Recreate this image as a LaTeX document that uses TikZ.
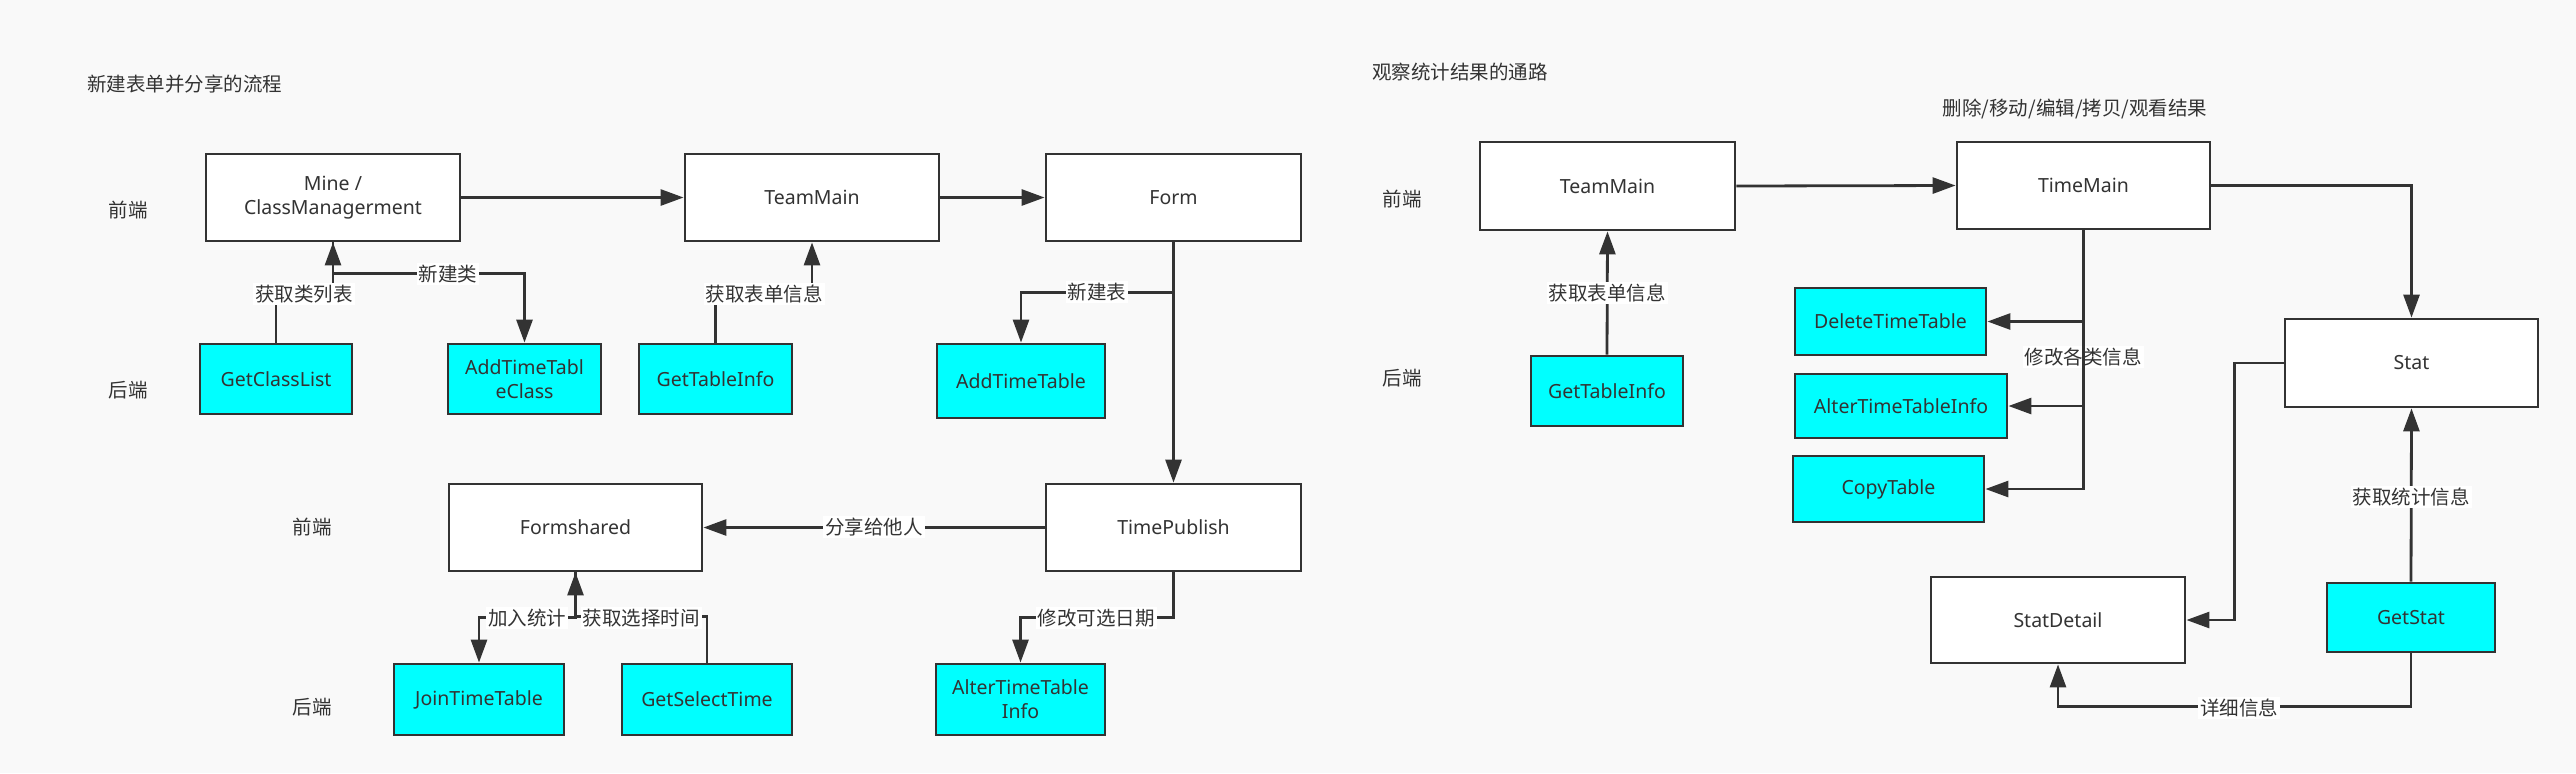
\documentclass[tikz,border=0pt]{standalone}
\usepackage{fontspec}
\setmainfont{Noto Sans}
\newfontfamily\cjk{Noto Sans CJK SC}
\usetikzlibrary{arrows.meta}
\definecolor{ink}{HTML}{333333}
\definecolor{pagebg}{HTML}{F9F9F9}
\definecolor{cy}{HTML}{00FFFF}
\begin{document}
\begin{tikzpicture}[x=0.5pt,y=-0.5pt,
  every node/.style={text=ink, font=\fontsize{9.75pt}{12pt}\selectfont},
  wbox/.style={draw=ink, line width=1.4pt, fill=white, align=center, inner sep=0pt},
  cbox/.style={wbox, fill=cy},
  arr/.style={draw=ink, line width=1.4pt, -{Triangle[length=11.5pt,width=8pt]}},
  lbl/.style={fill=white, inner sep=1pt, font=\cjk\fontsize{9.75pt}{12pt}\selectfont},
  txt/.style={inner sep=0pt, font=\cjk\fontsize{9.75pt}{12pt}\selectfont}]
\fill[pagebg] (0,0) rectangle (2576,773);
\useasboundingbox (0,0) rectangle (2576,773);

% ---------- left diagram ----------
\node[txt, anchor=west] (title1) at (87,84) {新建表单并分享的流程};
\node[txt] (fe1) at (128,210) {前端};
\node[txt] (be1) at (128,390) {后端};
\node[txt] (fe2) at (312,527) {前端};
\node[txt] (be2) at (312,707) {后端};

\node[wbox, minimum width=127pt, minimum height=43.5pt] (mine) at (333,197.5) {Mine /\\ClassManagerment};
\node[wbox, minimum width=127pt, minimum height=43.5pt] (teamL) at (812,197.5) {TeamMain};
\node[wbox, minimum width=127.5pt, minimum height=43.5pt] (form) at (1173.5,197.5) {Form};
\node[cbox, minimum width=76pt, minimum height=35pt] (getClassList) at (276,379) {GetClassList};
\node[cbox, minimum width=76.5pt, minimum height=35pt] (addTTClass) at (524.5,379) {AddTimeTabl\\eClass};
\node[cbox, minimum width=76.5pt, minimum height=35pt] (getTableInfoL) at (715.5,379) {GetTableInfo};
\node[cbox, minimum width=84pt, minimum height=37pt] (addTimeTable) at (1021,381) {AddTimeTable};
\node[wbox, minimum width=127.5pt, minimum height=43.5pt] (timePublish) at (1173.5,527.5) {TimePublish};
\node[wbox, minimum width=126.5pt, minimum height=43.5pt] (formshared) at (575.5,527.5) {Formshared};
\node[cbox, minimum width=85pt, minimum height=35.5pt] (joinTT) at (479,699.5) {JoinTimeTable};
\node[cbox, minimum width=85pt, minimum height=35.5pt] (getSelectTime) at (707,699.5) {GetSelectTime};
\node[cbox, minimum width=84.5pt, minimum height=35.5pt] (alterTTInfoB) at (1020.5,699.5) {AlterTimeTable\\Info};

\draw[arr] (mine.east) -- (teamL.west);
\draw[arr] (teamL.east) -- (form.west);
\draw[arr] (getClassList.north) -- ++(0,-48) -| (mine.south);
\draw[arr] (mine.south) -- ++(0,31) -| (addTTClass.north);
\draw[arr] (getTableInfoL.north) -- ++(0,-48) -| (teamL.south);
\draw[arr] (form.south) -- (timePublish.north);
\draw[arr] (form.south) -- ++(0,50) -| (addTimeTable.north);
\draw[arr] (timePublish.west) -- (formshared.east);
\draw[arr] (formshared.south) -- ++(0,45) -| (joinTT.north);
\draw[arr] (getSelectTime.north) -- ++(0,-46) -| (formshared.south);
\draw[arr] (timePublish.south) -- ++(0,45) -| (alterTTInfoB.north);

\node[lbl] (l1) at (304,294) {获取类列表};
\node[lbl] (l2) at (448,274) {新建类};
\node[lbl] (l3) at (764,294) {获取表单信息};
\node[lbl] (l4) at (1097,292) {新建表};
\node[lbl] (l5) at (874,527) {分享给他人};
\node[lbl] (l6) at (527,618) {加入统计};
\node[lbl] (l7) at (641,618) {获取选择时间};
\node[lbl] (l8) at (1096,618) {修改可选日期};

% ---------- right diagram ----------
\node[txt, anchor=west] (title2) at (1372,72) {观察统计结果的通路};
\node[txt] (fe3) at (1402,199) {前端};
\node[txt] (be3) at (1402,378) {后端};
\node[txt] (ops) at (2075,109) {删除/移动/编辑/拷贝/观看结果};

\node[wbox, minimum width=127.5pt, minimum height=44pt] (teamR) at (1607.5,186) {TeamMain};
\node[wbox, minimum width=126.5pt, minimum height=43.5pt] (timeMain) at (2083.5,185.5) {TimeMain};
\node[wbox, minimum width=126.5pt, minimum height=44pt] (stat) at (2411.5,363) {Stat};
\node[cbox, minimum width=76pt, minimum height=35pt] (getTableInfoR) at (1607,391) {GetTableInfo};
\node[cbox, minimum width=95.5pt, minimum height=33.5pt] (deleteTT) at (1890.5,321.5) {DeleteTimeTable};
\node[cbox, minimum width=106pt, minimum height=32pt] (alterTTInfo) at (1901,406) {AlterTimeTableInfo};
\node[cbox, minimum width=95.5pt, minimum height=33pt] (copyTable) at (1888.5,489) {CopyTable};
\node[wbox, minimum width=127pt, minimum height=43pt] (statDetail) at (2058,620) {StatDetail};
\node[cbox, minimum width=84pt, minimum height=34.5pt] (getStat) at (2411,617.5) {GetStat};

\draw[arr] (teamR.east) -- (timeMain.west);
\draw[arr] (getTableInfoR.north) -- (teamR.south);
\draw[arr] (timeMain.east) -| (stat.north);
\draw[arr] (timeMain.south) |- (deleteTT.east);
\draw[arr] (timeMain.south) |- (alterTTInfo.east);
\draw[arr] (stat.west) -- ++(-49,0) |- (statDetail.east);
\draw[arr] (getStat.north) -- (stat.south);
\draw[arr] (getStat.south) -- ++(0,53) -| (statDetail.south);

\node[lbl] (l9) at (1607,293) {获取表单信息};
\node[lbl] (l10) at (2083,357) {修改各类信息};
\node[lbl] (l11) at (2411,497) {获取统计信息};
\node[lbl] (l12) at (2239,708) {详细信息};

% drawn after the label, so its line crosses it as in the reference
\draw[arr] (timeMain.south) |- (copyTable.east);
\end{tikzpicture}
\end{document}
